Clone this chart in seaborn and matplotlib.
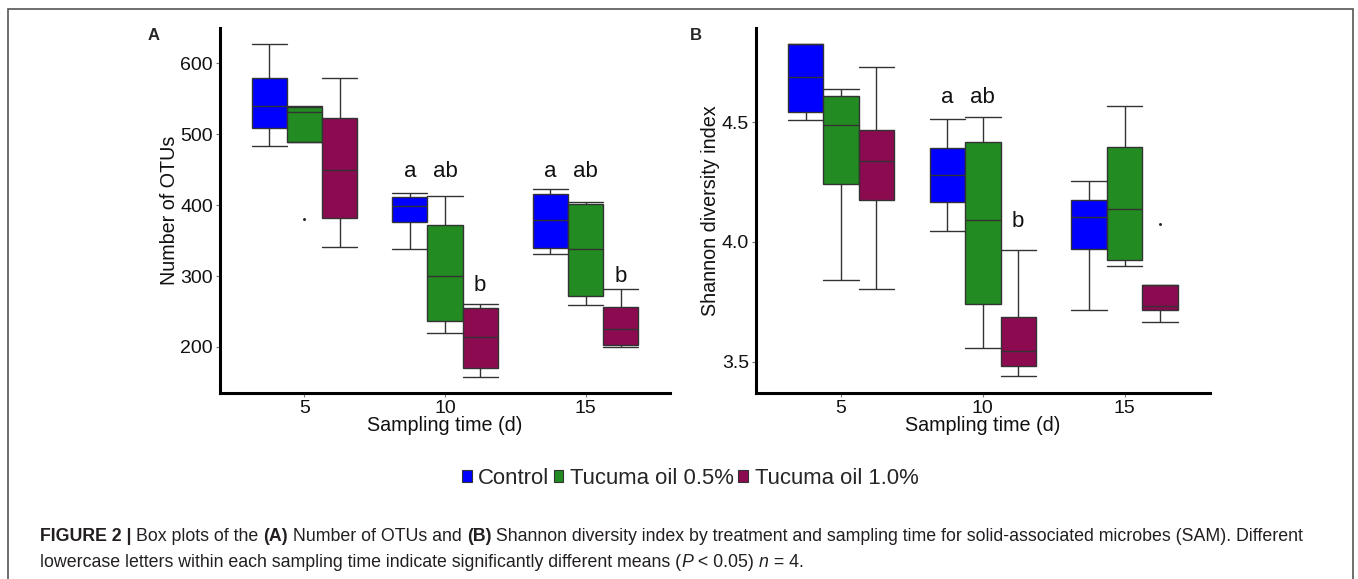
import numpy as np
import pandas as pd
import matplotlib
matplotlib.use("Agg")
import matplotlib.pyplot as plt
import seaborn as sns
from matplotlib.patches import Patch, Rectangle

# datos (n = 4 por grupo)
days = ["5", "10", "15"]
treatments = ["Control", "Tucuma oil 0.5%", "Tucuma oil 1.0%"]
colors = ["#0000FF", "#228B22", "#8B0A50"]

otus_control = [[484, 517, 564, 627], [338, 389, 410, 417], [331, 343, 414, 423]]
otus_tuc05 = [[381, 526, 538, 540], [219, 242, 359, 413], [259, 276, 400, 405]]
otus_tuc10 = [[341, 396, 504, 579], [158, 175, 253, 261], [200, 203, 248, 282]]

shannon_control = [[4.511, 4.554, 4.826, 4.826], [4.047, 4.207, 4.349, 4.514], [3.717, 4.057, 4.147, 4.255]]
shannon_tuc05 = [[3.841, 4.376, 4.599, 4.639], [3.557, 3.801, 4.384, 4.523], [3.899, 3.935, 4.341, 4.568]]
shannon_tuc10 = [[3.804, 4.299, 4.379, 4.732], [3.439, 3.496, 3.593, 3.968], [3.666, 3.731, 3.737, 4.076]]

# letras de significancia: (dia, tratamiento, texto, y)
letters_otus = [("10", 0, "a", 447), ("10", 1, "ab", 447), ("10", 2, "b", 287),
                ("15", 0, "a", 447), ("15", 1, "ab", 447), ("15", 2, "b", 300)]
letters_shannon = [("10", 0, "a", 4.604), ("10", 1, "ab", 4.604), ("10", 2, "b", 4.085)]


def armar_df(series):
    rows = []
    for trat, vals in zip(treatments, series):
        for d, grupo in zip(days, vals):
            for v in grupo:
                rows.append({"day": d, "treatment": trat, "value": v})
    return pd.DataFrame(rows)


df_otus = armar_df([otus_control, otus_tuc05, otus_tuc10])
df_shannon = armar_df([shannon_control, shannon_tuc05, shannon_tuc10])

sns.set_style("white")
plt.rcParams["font.family"] = ["Liberation Sans", "DejaVu Sans"]

fig = plt.figure(figsize=(13.58, 5.79), dpi=100)
axA = fig.add_axes([220 / 1358, 1 - 393.3 / 579, 450 / 1358, 365.3 / 579])
axB = fig.add_axes([756 / 1358, 1 - 393.3 / 579, 453.6 / 1358, 365.3 / 579])


def panel(ax, df, ylim, yticks, ylabel, letters, fmt):
    sns.boxplot(data=df, x="day", y="value", hue="treatment", order=days,
                hue_order=treatments, palette=colors, width=0.75, gap=0,
                linecolor="#333333", linewidth=1.0, saturation=1,
                flierprops=dict(marker="o", markersize=1.1,
                                markerfacecolor="#222222", markeredgecolor="#222222"),
                capwidths=0.25, legend=False, ax=ax)
    offsets = [-0.25, 0.0, 0.25]
    for d, t, txt, y in letters:
        ax.text(days.index(d) + offsets[t], y, txt, ha="center", va="center",
                fontsize=16, color="#111111")
    ax.set_xlim(-0.6, 2.6)
    ax.set_ylim(*ylim)
    ax.set_yticks(yticks)
    ax.set_yticklabels([fmt.format(v) for v in yticks])
    ax.set_xlabel("Sampling time (d)", fontsize=14.2, labelpad=-1, color="#111111")
    ax.set_ylabel(ylabel, fontsize=14.2, labelpad=1, color="#111111")
    for s in ["top", "right"]:
        ax.spines[s].set_visible(False)
    for s in ["left", "bottom"]:
        ax.spines[s].set_color("black")
        ax.spines[s].set_linewidth(2.2)
    ax.tick_params(axis="both", labelsize=14, length=3, width=0.8,
                   color="#777777", labelcolor="#111111", pad=2,
                   left=True, bottom=True)


panel(axA, df_otus, (134.6, 650), [200, 300, 400, 500, 600], "Number of OTUs",
      letters_otus, "{:.0f}")
panel(axB, df_shannon, (3.368, 4.893), [3.5, 4.0, 4.5], "Shannon diversity index",
      letters_shannon, "{:.1f}")

fig.text(154 / 1358, 1 - 35 / 579, "A", fontsize=12, fontweight="bold", ha="center", va="center")
fig.text(696 / 1358, 1 - 35 / 579, "B", fontsize=12, fontweight="bold", ha="center", va="center")

handles = [Patch(facecolor=c, edgecolor="#333333", linewidth=0.8) for c in colors]
fig.legend(handles, treatments, loc="center", bbox_to_anchor=(690 / 1358, 1 - 478 / 579),
           ncol=3, frameon=False, fontsize=15.9, handlelength=0.45, handleheight=0.45,
           handletextpad=0.3, columnspacing=0.18)

# marco de la figura
fig.patches.append(Rectangle((8 / 1358, -0.05), 1345 / 1358, 1.05 - 9 / 579,
                             transform=fig.transFigure, fill=False,
                             edgecolor="#555555", linewidth=1.2))

# pie de figura con partes en negrita / cursiva
caption = [
    [("FIGURE 2 | ", "bold", "normal"), ("Box plots of the ", "normal", "normal"),
     ("(A)", "bold", "normal"), (" Number of OTUs and ", "normal", "normal"),
     ("(B)", "bold", "normal"),
     (" Shannon diversity index by treatment and sampling time for solid-associated microbes (SAM). Different",
      "normal", "normal")],
    [("lowercase letters within each sampling time indicate significantly different means (", "normal", "normal"),
     ("P", "normal", "italic"), (" < 0.05) ", "normal", "normal"),
     ("n", "normal", "italic"), (" = 4.", "normal", "normal")],
]
renderer = fig.canvas.get_renderer()
for i, linea in enumerate(caption):
    x = 40
    y = 1 - (541 + 26 * i) / 579
    for txt, w, st in linea:
        t = fig.text(x / 1358, y, txt, fontsize=12.8, fontweight=w, fontstyle=st,
                     color="#231F20", ha="left", va="baseline")
        x += t.get_window_extent(renderer).width

fig.savefig("out.png", dpi=100)
